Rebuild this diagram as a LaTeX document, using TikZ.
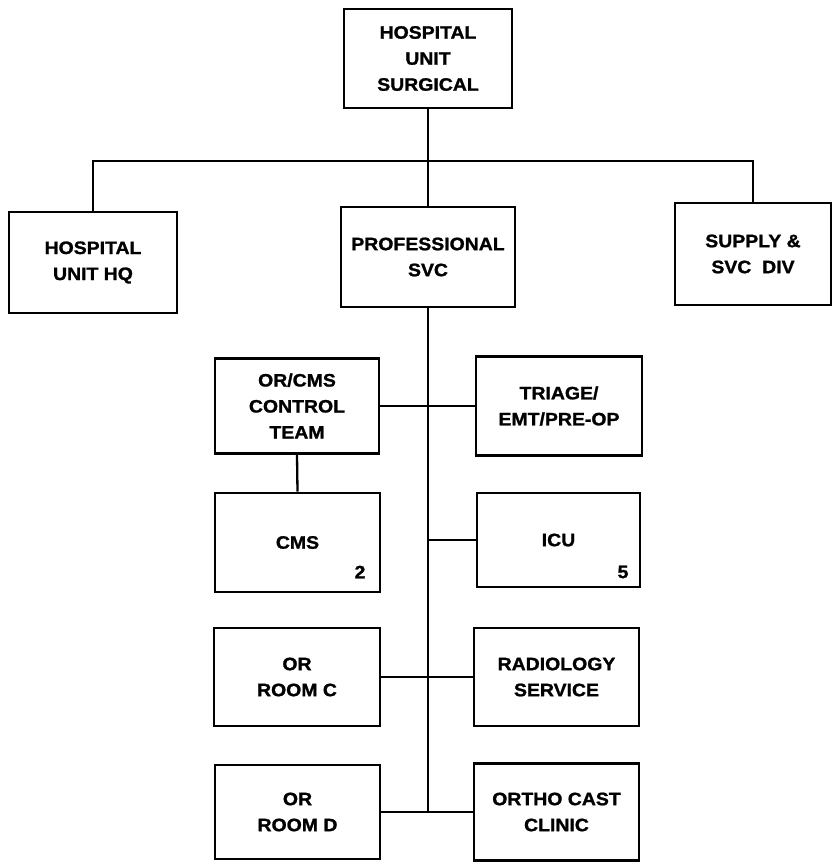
\documentclass[tikz,border=0pt]{standalone}
\usepackage{fontspec}
\newfontfamily\chartfont[FakeStretch=1.08,BoldFeatures={FakeBold=1.3}]{Liberation Sans}
\begin{document}
\begin{tikzpicture}[x=1pt,y=-1pt,
  unitbox/.style={draw,line width=2.8pt,rectangle,align=center,inner sep=0pt,
    font=\chartfont\bfseries\fontsize{18}{26}\selectfont},
  link/.style={line width=2.3pt},
  numlabel/.style={inner sep=0pt,font=\chartfont\bfseries\fontsize{18}{20}\selectfont}]
\useasboundingbox (0,0) rectangle (834,862);
% top level
\node[unitbox,minimum width=168pt,minimum height=99pt] (top) at (428,58.5) {HOSPITAL\\UNIT\\SURGICAL};
\node[unitbox,minimum width=168pt,minimum height=101pt] (hq) at (93,262.5) {HOSPITAL\\UNIT HQ};
\node[unitbox,minimum width=174pt,minimum height=100pt] (prof) at (428,257) {PROFESSIONAL\\SVC};
\node[unitbox,minimum width=156pt,minimum height=102pt] (sup) at (753,254) {SUPPLY \&\\SVC\ \ DIV};
% left column
\node[unitbox,minimum width=164pt,minimum height=95pt] (ctl) at (297,406) {OR/CMS\\CONTROL\\TEAM};
\node[unitbox,minimum width=165pt,minimum height=99pt] (cms) at (297.5,542.5) {CMS};
\node[unitbox,minimum width=166pt,minimum height=98pt] (orc) at (297,677) {OR\\ROOM C};
\node[unitbox,minimum width=165pt,minimum height=94pt] (ord) at (297.5,812) {OR\\ROOM D};
% right column
\node[unitbox,minimum width=166pt,minimum height=99pt] (tri) at (559,406) {TRIAGE/\\EMT/PRE-OP};
\node[unitbox,minimum width=163pt,minimum height=94pt] (icu) at (558.5,540) {ICU};
\node[unitbox,minimum width=165pt,minimum height=98pt] (rad) at (556.5,677) {RADIOLOGY\\SERVICE};
\node[unitbox,minimum width=165pt,minimum height=97pt] (ort) at (556.5,812) {ORTHO CAST\\CLINIC};
% numbers
\node[numlabel] (n2) at (360,572) {2};
\node[numlabel] (n5) at (623,572) {5};
% connectors
\coordinate (bus) at (428,161);
\draw[link] (top.south) -- (prof.north);
\draw[link] (hq.north) |- (bus) -| (sup.north);
\coordinate (mainend) at (428,812);
\draw[link] (prof.south) -- (mainend);
\draw[link] (ctl.east) -- (tri.west);
\draw[link] (ctl.south) -- (cms.north);
\draw[link] (prof.south |- icu.west) -- (icu.west);
\draw[link] (orc.east) -- (rad.west);
\draw[link] (ord.east) -- (ort.west);
\end{tikzpicture}
\end{document}
